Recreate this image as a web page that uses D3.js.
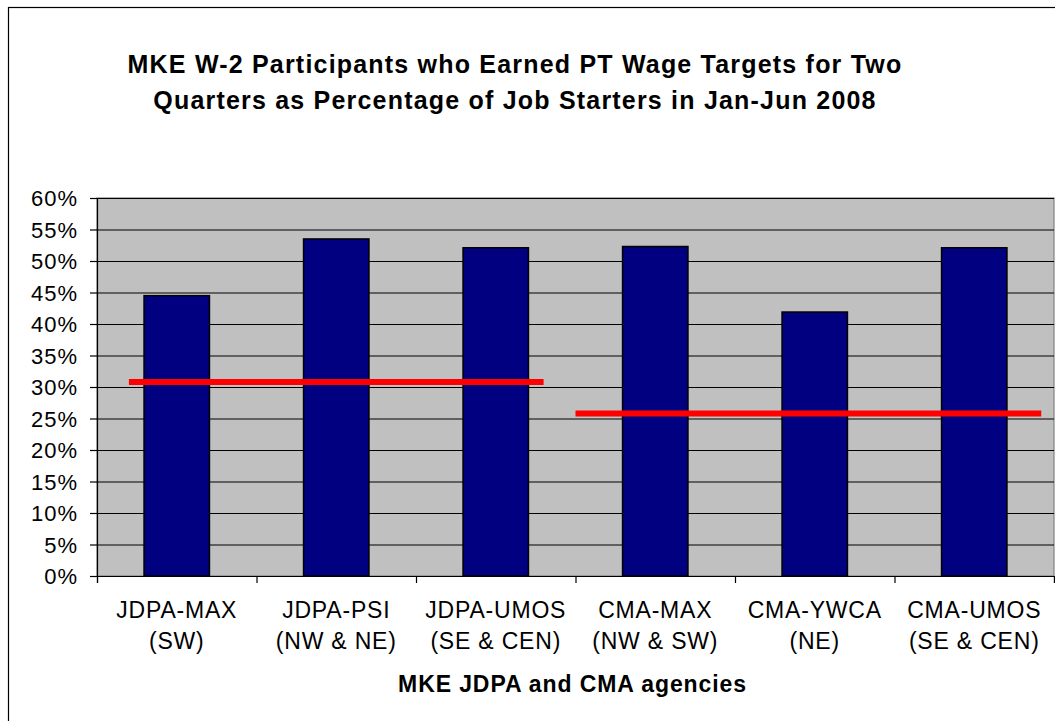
<!DOCTYPE html>
<html>
<head>
<meta charset="utf-8">
<script src="https://cdn.jsdelivr.net/npm/d3@7"></script>
<style>
	body { margin: 0; background: #fff; }
	svg { display: block; font-family: Arial, "Liberation Sans", sans-serif; }
</style>
</head>
<body>
<div id="chart"></div>
<script>
//	Data
var categories = ["JDPA-MAX (SW)", "JDPA-PSI (NW & NE)", "JDPA-UMOS (SE & CEN)",
				"CMA-MAX (NW & SW)", "CMA-YWCA (NE)", "CMA-UMOS (SE & CEN)"];
var labelTop = ["JDPA-MAX", "JDPA-PSI", "JDPA-UMOS", "CMA-MAX", "CMA-YWCA", "CMA-UMOS"];
var labelBottom = ["(SW)", "(NW & NE)", "(SE & CEN)", "(NW & SW)", "(NE)", "(SE & CEN)"];
var values = [44.5, 53.5, 52.1, 52.3, 41.9, 52.1];
var yTicks = [0, 5, 10, 15, 20, 25, 30, 35, 40, 45, 50, 55, 60];

//	Target lines (value, span in category units)
var targetValues = [30.8, 25.8];
var targetFrom = [0.2, 3.0];
var targetTo = [2.8, 5.92];

var titleLines = ["MKE W-2 Participants who Earned PT Wage Targets for Two",
				"Quarters as Percentage of Job Starters in Jan-Jun 2008"];
var xTitle = "MKE JDPA and CMA agencies";

drawChart();

function drawChart() {
	var W = 1055, H = 721;
	var left = 97, right = 1054, top = 198, bottom = 576;

	var svg = d3.select("#chart")
		.append("svg")
		.attr("width", W)
		.attr("height", H);

	//	Outer chart frame
	svg.append("rect")
		.attr("x", 8.5)
		.attr("y", 7.5)
		.attr("width", W + 10)
		.attr("height", H + 10)
		.attr("fill", "#fff")
		.attr("stroke", "#000")
		.attr("stroke-width", 1.2);

	var x = d3.scaleBand()
		.domain(categories)
		.range([left, right]);

	var xPos = d3.scaleLinear()
		.domain([0, categories.length])
		.range([left, right]);

	var y = d3.scaleLinear()
		.domain([0, 60])
		.range([bottom, top]);

	//	Plot area
	svg.append("rect")
		.attr("x", left)
		.attr("y", top)
		.attr("width", right - left)
		.attr("height", bottom - top)
		.attr("fill", "#c0c0c0")
		.attr("stroke", "#808080")
		.attr("stroke-width", 1.2);

	//	Gridlines
	svg.append("g")
		.attr("transform", "translate(" + left + ",0)")
		.call(d3.axisLeft(y).tickValues(yTicks.slice(1)).tickSize(-(right - left)).tickFormat(""))
		.call(function(g) {
			g.select(".domain").remove();
			g.selectAll("line").attr("stroke", "#000").attr("stroke-width", 1.2);
		});

	//	Bars
	var barW = x.bandwidth() * 0.41;
	svg.append("g")
		.selectAll("rect")
		.data(values)
		.join("rect")
		.attr("x", function(d, i) { return x(categories[i]) + (x.bandwidth() - barW) / 2; })
		.attr("y", function(d) { return y(d); })
		.attr("width", barW)
		.attr("height", function(d) { return y(0) - y(d); })
		.attr("fill", "#000080")
		.attr("stroke", "#000")
		.attr("stroke-width", 1.5);

	//	Y axis
	svg.append("g")
		.attr("transform", "translate(" + left + ",0)")
		.call(d3.axisLeft(y).tickValues(yTicks).tickSize(7).tickPadding(12)
			.tickFormat(function(d) { return d + "%"; }))
		.call(function(g) {
			g.select(".domain").attr("stroke", "#000").attr("stroke-width", 1.2);
			g.selectAll("line").attr("stroke", "#000").attr("stroke-width", 1.2);
			g.selectAll("text")
				.attr("font-family", "Arial, 'Liberation Sans', sans-serif")
				.attr("font-size", 22)
				.attr("letter-spacing", 1)
				.attr("fill", "#000")
				.attr("dy", "0.36em");
		});

	//	X axis
	var xTickVals = d3.range(categories.length + 1);
	svg.append("g")
		.attr("transform", "translate(0," + bottom + ")")
		.call(d3.axisBottom(xPos).tickValues(xTickVals).tickSize(7).tickFormat(""))
		.call(function(g) {
			g.select(".domain").attr("stroke", "#000").attr("stroke-width", 1.2);
			g.selectAll("line").attr("stroke", "#000").attr("stroke-width", 1.2);
		});

	var xl = svg.append("g")
		.selectAll("text")
		.data(categories)
		.join("text")
		.attr("x", function(d) { return x(d) + x.bandwidth() / 2; })
		.attr("y", 617.5)
		.attr("text-anchor", "middle")
		.attr("font-size", 23)
		.attr("letter-spacing", 0.8)
		.attr("fill", "#000");
	xl.append("tspan")
		.attr("x", function(d) { return x(d) + x.bandwidth() / 2; })
		.text(function(d, i) { return labelTop[i]; });
	xl.append("tspan")
		.attr("x", function(d) { return x(d) + x.bandwidth() / 2; })
		.attr("dy", 31)
		.text(function(d, i) { return labelBottom[i]; });

	//	Target lines
	svg.append("g")
		.selectAll("line")
		.data(targetValues)
		.join("line")
		.attr("x1", function(d, i) { return xPos(targetFrom[i]); })
		.attr("x2", function(d, i) { return xPos(targetTo[i]); })
		.attr("y1", function(d) { return y(d); })
		.attr("y2", function(d) { return y(d); })
		.attr("stroke", "#ff0000")
		.attr("stroke-width", 6);

	//	Titles
	svg.append("g")
		.selectAll("text")
		.data(titleLines)
		.join("text")
		.attr("x", 515)
		.attr("y", function(d, i) { return 73 + i * 35.5; })
		.attr("text-anchor", "middle")
		.attr("font-size", 25)
		.attr("letter-spacing", 1.2)
		.attr("font-weight", "bold")
		.attr("fill", "#000")
		.text(function(d) { return d; });

	svg.append("text")
		.attr("x", (left + right) / 2 - 3)
		.attr("y", 691.5)
		.attr("text-anchor", "middle")
		.attr("font-size", 23)
		.attr("letter-spacing", 0.9)
		.attr("font-weight", "bold")
		.attr("fill", "#000")
		.text(xTitle);
}
</script>
</body>
</html>
